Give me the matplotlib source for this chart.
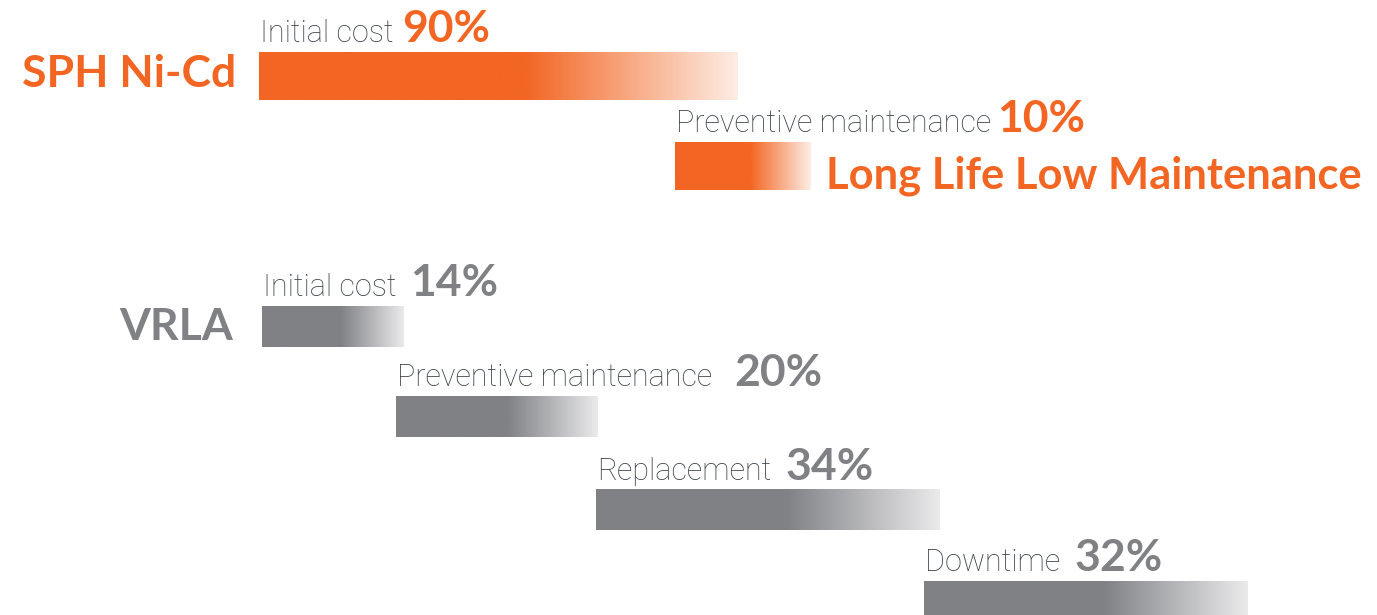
import numpy as np
import matplotlib
matplotlib.use("Agg")
import matplotlib.pyplot as plt
from matplotlib.colors import LinearSegmentedColormap

# data (x unit = 1 % of the VRLA total cost)
nicd_name = "SPH Ni-Cd"
nicd_labels = ["Initial cost", "Preventive maintenance"]
nicd_pct = [90, 10]
nicd_start = [-0.1, 41.1]
nicd_len = [47.4, 13.4]
nicd_note = "Long Life Low Maintenance"

vrla_name = "VRLA"
vrla_labels = ["Initial cost", "Preventive maintenance", "Replacement", "Downtime"]
vrla_pct = [14, 20, 34, 32]
vrla_start = [0.2, 13.5, 33.3, 65.7]

# layout (y in pixels from the top)
nicd_rows = [76, 166]
vrla_rows = [326.5, 416.5, 510, 601.5]
nicd_h = 48
vrla_h = 41
nicd_gaps = [9, 6]
vrla_gaps = [14, 22, 14, 15]

ORANGE = "#F26522"
GRAY = "#808185"
TEXT = "#38424a"
orange_cmap = LinearSegmentedColormap.from_list("o", [ORANGE, "#FDEDE4"])
gray_cmap = LinearSegmentedColormap.from_list("g", [GRAY, "#EAEAEB"])

LABEL_FONT = dict(family=["Roboto", "DejaVu Sans"], weight="light", size=22, color=TEXT)
BOLD_FONT = ["Lato", "DejaVu Sans"]


def gradient_bar(ax, left, width, yc, h, cmap, solid=0.55):
    bar = ax.barh(yc, width, left=left, height=h, color="none", linewidth=0)[0]
    n = 400
    k = int(n * solid)
    grad = np.concatenate([np.zeros(k), np.linspace(0, 1, n - k)])
    ax.imshow(grad[None, :], cmap=cmap, aspect="auto", interpolation="bilinear",
              extent=(left, left + width, yc + h / 2, yc - h / 2), clip_path=bar)
    return bar


def labelled_bar(ax, left, width, yc, h, cmap, label, pct, gap, pct_color):
    gradient_bar(ax, left, width, yc, h, cmap)
    top = yc - h / 2
    lab = ax.annotate(label, xy=(left, top), xytext=(1, 10), textcoords="offset pixels",
                      ha="left", va="baseline", **LABEL_FONT)
    ax.annotate(f"{pct}%", xy=(1, top), xycoords=(lab, "data"), xytext=(gap, 10),
                textcoords="offset pixels", ha="left", va="baseline",
                family=BOLD_FONT, weight="bold", size=32, color=pct_color)


fig = plt.figure(figsize=(13.77, 6.15), dpi=100)
ax = fig.add_axes([0, 0, 1, 1])

for i in range(len(nicd_labels)):
    labelled_bar(ax, nicd_start[i], nicd_len[i], nicd_rows[i], nicd_h, orange_cmap,
                 nicd_labels[i], nicd_pct[i], nicd_gaps[i], ORANGE)

for i in range(len(vrla_labels)):
    labelled_bar(ax, vrla_start[i], vrla_pct[i], vrla_rows[i], vrla_h, gray_cmap,
                 vrla_labels[i], vrla_pct[i], vrla_gaps[i], GRAY)

# group names
ax.annotate(nicd_name, xy=(nicd_start[0], nicd_rows[0]), xytext=(-23, -11),
            textcoords="offset pixels", ha="right", va="baseline",
            family=BOLD_FONT, weight="bold", size=32, color=ORANGE)
ax.annotate(vrla_name, xy=(vrla_start[0], vrla_rows[0]), xytext=(-29, -13.5),
            textcoords="offset pixels", ha="right", va="baseline",
            family=BOLD_FONT, weight="bold", size=32, color=GRAY)

# note next to the Ni-Cd maintenance bar
ax.annotate(nicd_note, xy=(nicd_start[1] + nicd_len[1], nicd_rows[1]), xytext=(16, -22),
            textcoords="offset pixels", ha="left", va="baseline",
            family=BOLD_FONT, weight="bold", size=31.3, color=ORANGE)

ax.set_xlim(-25.74, 110.6)
ax.set_ylim(615, 0)
ax.set_aspect("auto")
ax.axis("off")

fig.savefig("out.png", dpi=100)
